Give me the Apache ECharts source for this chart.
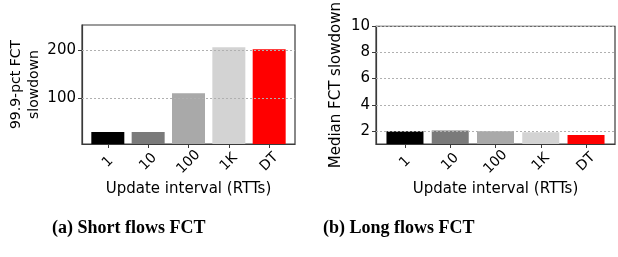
<!DOCTYPE html>
<html>
<head>
<meta charset="utf-8">
<script src="https://cdn.jsdelivr.net/npm/echarts@6/dist/echarts.min.js"></script>
<style>
  html, body { margin: 0; padding: 0; background: #fff; }
  #chart { width: 618px; height: 257px; }
</style>
</head>
<body>
<div id="chart"></div>
<script>
// categories (update interval in RTTs)
const categories = ['1', '10', '100', '1K', 'DT']
const barColors = ['#000000', '#7a7a7a', '#a9a9a9', '#d3d3d3', '#ff0000']

// (a) short flows, 99.9-pct FCT slowdown
const shortTail = [31, 31, 111, 206, 202]
const shortTicks = [100, 200]

// (b) long flows, median FCT slowdown
const longMedian = [1.98, 2.03, 1.97, 1.9, 1.68]
const longTicks = [2, 4, 6, 8, 10]

const positions = categories.map((c, i) => i)

const chart = echarts.init(document.getElementById('chart'), null, { renderer: 'canvas' })

const font = 'DejaVu Sans'
const axisColor = '#3a3a3a'

const makeX = (gridIndex) => ({
  type: 'value',
  gridIndex: gridIndex,
  min: -0.64,
  max: 4.64,
  name: 'Update interval (RTTs)',
  nameLocation: 'middle',
  nameGap: 38,
  nameTextStyle: { fontFamily: font, fontSize: 15, color: '#000' },
  axisLine: { show: true, onZero: false, lineStyle: { color: axisColor, width: 1.2 } },
  axisTick: { show: true, length: 4, lineStyle: { color: axisColor }, customValues: positions },
  axisLabel: {
    customValues: positions,
    formatter: (v) => categories[Math.round(v)],
    rotate: 45,
    align: 'center',
    verticalAlign: 'middle',
    margin: 18,
    fontFamily: font,
    fontSize: 14,
    color: '#000'
  },
  splitLine: { show: false }
})

const makeY = (gridIndex, min, max, ticks, name, nameGap, nameSize) => ({
  type: 'value',
  gridIndex: gridIndex,
  min: min,
  max: max,
  name: name,
  nameLocation: 'middle',
  nameGap: nameGap,
  nameTextStyle: { fontFamily: font, fontSize: nameSize, color: '#000', lineHeight: 18 },
  axisLine: { show: true, onZero: false, lineStyle: { color: axisColor, width: 1.2 } },
  axisTick: { show: true, length: 4, lineStyle: { color: axisColor }, customValues: ticks },
  axisLabel: { customValues: ticks, margin: 6, fontFamily: font, fontSize: 15, color: '#000' },
  splitLine: { show: false }
})

const gridLines = (ticks) => ({
  silent: true,
  symbol: 'none',
  label: { show: false },
  lineStyle: { color: '#b0b0b0', type: [2, 2], width: 1 },
  data: ticks.map(t => ({ yAxis: t }))
})

const makeSeries = (idx, values, ticks, width) => ({
  type: 'bar',
  xAxisIndex: idx,
  yAxisIndex: idx,
  barWidth: width,
  z: 3,
  data: values.map((v, i) => ({ value: [positions[i], v], itemStyle: { color: barColors[i] } })),
  markLine: gridLines(ticks)
})

const option = {
  animation: false,
  backgroundColor: '#fff',
  grid: [
    { left: 82, top: 25, width: 213, height: 119, show: true, borderColor: axisColor, borderWidth: 1.2 },
    { left: 376, top: 26, width: 239, height: 118, show: true, borderColor: axisColor, borderWidth: 1.2 }
  ],
  xAxis: [makeX(0), makeX(1)],
  yAxis: [
    makeY(0, 6, 252, shortTicks, '99.9-pct FCT\nslowdown', 35, 14),
    makeY(1, 1, 10, longTicks, 'Median FCT slowdown', 31, 15)
  ],
  series: [
    makeSeries(0, shortTail, shortTicks, 33),
    makeSeries(1, longMedian, longTicks, 37)
  ],
  graphic: [
    {
      type: 'text', left: 52, top: 219,
      style: { text: '(a) Short flows FCT', font: 'bold 18px "Liberation Serif"', fill: '#000' }
    },
    {
      type: 'text', left: 323, top: 219,
      style: { text: '(b) Long flows FCT', font: 'bold 18px "Liberation Serif"', fill: '#000' }
    }
  ]
}

chart.setOption(option)
</script>
</body>
</html>
